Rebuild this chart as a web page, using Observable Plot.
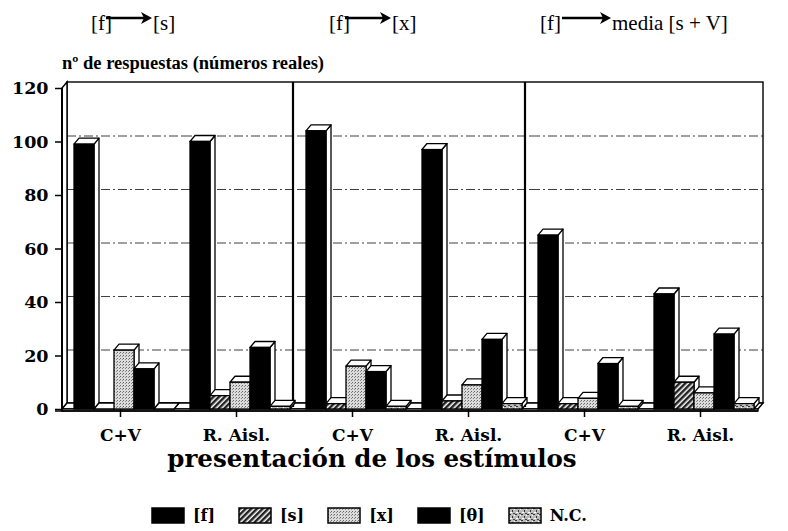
<!DOCTYPE html>
<html><head><meta charset="utf-8">
<script src="https://cdn.jsdelivr.net/npm/d3@7"></script>
<script src="https://cdn.jsdelivr.net/npm/@observablehq/plot@0.6"></script>
<style>
body{margin:0;background:#fff;}
#wrap{position:relative;width:788px;height:531px;overflow:hidden;background:#fff;}
.hdr{position:absolute;font-family:"Liberation Serif",serif;font-size:21px;line-height:21px;color:#000;white-space:nowrap;}
.arrow{position:absolute;}
#ylab{position:absolute;left:62px;top:54px;font-family:"Liberation Serif",serif;font-weight:bold;font-size:18.5px;line-height:18px;white-space:nowrap;}
#chart{position:absolute;left:0;top:40px;}
#chart svg{max-width:none;overflow:visible;}
#xtitle{position:absolute;left:0;width:744px;text-align:center;top:446px;font-family:"DejaVu Serif",serif;font-weight:bold;font-size:24.5px;line-height:26px;white-space:nowrap;}
#legend{position:absolute;left:152px;top:499px;}
#legend .lg-swatch{margin-right:24px !important;}
#legend .lg-swatch svg{margin-right:9px !important;}
#legend .lg-swatch svg rect{stroke:#000;stroke-width:1.5px;}
</style></head>
<body>
<svg width="0" height="0" style="position:absolute">
 <defs>
  <pattern id="pS" width="4" height="4" patternUnits="userSpaceOnUse" patternTransform="rotate(45)">
   <rect width="4" height="4" fill="#fff"/><rect width="2.5" height="4" fill="#222"/>
  </pattern>
  <pattern id="pX" width="3" height="3" patternUnits="userSpaceOnUse">
   <rect width="3" height="3" fill="#dcdcdc"/><rect x="0" y="0" width="1" height="1" fill="#666"/><rect x="2" y="1" width="1" height="1" fill="#888"/>
  </pattern>
  <pattern id="pNC" width="6" height="6" patternUnits="userSpaceOnUse">
   <rect width="6" height="6" fill="#bbb"/><rect x="0" y="0" width="2" height="1" fill="#333"/><rect x="3" y="2" width="1" height="2" fill="#333"/><rect x="1" y="4" width="2" height="1" fill="#fff"/><rect x="4" y="5" width="2" height="1" fill="#444"/><rect x="5" y="1" width="1" height="1" fill="#fff"/>
  </pattern>
 </defs>
</svg>
<div id="wrap">
 <div id="hdr"></div>
 <div id="ylab">nº de respuestas (números reales)</div>
 <div id="chart"></div>
 <div id="xtitle">presentación de los estímulos</div>
 <div id="legend"></div>
</div>
<script>
// ---- data ----
const groups = ["C+V", "R. Aisl.", "C+V", "R. Aisl.", "C+V", "R. Aisl."];
const series = ["[f]", "[s]", "[x]", "[θ]", "N.C."];
const valF  = [99, 100, 104, 97, 65, 43];
const valS  = [0, 5, 2, 3, 2, 10];
const valX  = [22, 10, 16, 9, 4, 6];
const valTh = [15, 23, 14, 26, 17, 28];
const valNC = [0, 1, 1, 2, 1, 2];
const yTicks = [0, 20, 40, 60, 80, 100, 120];
const gridTicks = [20, 40, 60, 80, 100];
const headerFrom = ["[f]", "[f]", "[f]"];
const headerTo = ["[s]", "[x]", "media [s + V]"];
const separatorsBefore = [2, 4];
const fills = ["#000", "url(#pS)", "url(#pX)", "#000", "url(#pNC)"];

const seriesValues = [valF, valS, valX, valTh, valNC];
const data = groups.flatMap((g, i) => series.map((s, j) => ({gi: i, serie: s, v: seriesValues[j][i]})));

// ---- header (layout) ----
const hdrPos = [{f: 91, a: 106, aw: 46, t: 153}, {f: 329, a: 345, aw: 46, t: 392}, {f: 540, a: 562, aw: 49, t: 612}];
const hdr = document.getElementById("hdr");
hdrPos.forEach((p, i) => {
  const f = document.createElement("div"); f.className = "hdr"; f.style.left = p.f + "px"; f.style.top = "13px"; f.textContent = headerFrom[i]; hdr.appendChild(f);
  const t = document.createElement("div"); t.className = "hdr"; t.style.left = p.t + "px"; t.style.top = "13px"; t.textContent = headerTo[i]; hdr.appendChild(t);
  const a = document.createElement("div"); a.className = "arrow"; a.style.left = p.a + "px"; a.style.top = "11px";
  a.innerHTML = `<svg width="${p.aw}" height="16"><line x1="0" y1="7" x2="${p.aw - 8}" y2="7" stroke="#000" stroke-width="2.5"/><polygon points="${p.aw - 11},1 ${p.aw},7 ${p.aw - 11},13 ${p.aw - 8},7" fill="#000"/></svg>`;
  hdr.appendChild(a);
});

const NS = "http://www.w3.org/2000/svg";
const DX = 5, DY = 6;
function el(tag, attrs) { const e = document.createElementNS(NS, tag); for (const k in attrs) e.setAttribute(k, attrs[k]); return e; }

function bar3d(index, scales, values, dimensions, context, next) {
  const g = next(index, scales, values, dimensions, context);
  for (const r of Array.from(g.querySelectorAll("rect"))) {
    const x = +r.getAttribute("x"), y = +r.getAttribute("y"), w = +r.getAttribute("width"), h = +r.getAttribute("height");
    const side = el("polygon", {points: `${x + w},${y} ${x + w + DX},${y - DY} ${x + w + DX},${y + h - DY} ${x + w},${y + h}`, fill: "#fff", stroke: "#000", "stroke-width": 1.3, "stroke-linejoin": "round"});
    const top = el("polygon", {points: `${x},${y} ${x + DX},${y - DY} ${x + w + DX},${y - DY} ${x + w},${y}`, fill: "#fff", stroke: "#000", "stroke-width": 1.3, "stroke-linejoin": "round"});
    r.parentNode.insertBefore(side, r);
    r.parentNode.insertBefore(top, r);
  }
  return g;
}

const W = 788, ML = 62, MR = 30;
const chart = Plot.plot({
  width: W, height: 409,
  marginLeft: ML, marginRight: MR, marginTop: 48, marginBottom: 40,
  style: {fontFamily: "DejaVu Serif", fontWeight: "bold", fontSize: "17px", color: "#000", background: "transparent", overflow: "visible"},
  fx: {domain: d3.range(groups.length), padding: 0, label: null},
  x: {domain: series, paddingInner: 0, paddingOuter: 0.33, align: 0.74, axis: null},
  y: {domain: [0, 120], label: null},
  color: {domain: series, range: fills},
  marks: [
    Plot.gridY(gridTicks, {dx: DX, dy: -DY, stroke: "#000", strokeOpacity: 0.75, strokeWidth: 1.1, strokeDasharray: "9,3,2,3"}),
    Plot.barY(data, {fx: "gi", x: "serie", y: "v", fill: "serie", stroke: "#000", strokeWidth: 1.3, render: bar3d}),
    Plot.axisY(yTicks, {tickSize: 7, tickPadding: 7, fontSize: 17.5, fontWeight: "bold", label: null, strokeWidth: 1.5}),
    Plot.axisFx({anchor: "bottom", tickSize: 8, tickPadding: 11, fontSize: 17, fontWeight: "bold", tickFormat: i => groups[i], label: null, strokeWidth: 1.5})
  ]
});

// 3D walls and floor behind the marks, positioned with Plot's own scales
const ys = chart.scale("y"), fxs = chart.scale("fx");
const y0 = ys.apply(0), yT = ys.apply(120);
const L = ML, R = W - MR;
const walls = el("g", {fill: "#fff", stroke: "#000", "stroke-width": 1.4});
walls.append(el("rect", {x: L + DX, y: yT - DY, width: R - L, height: y0 - yT}));
walls.append(el("polygon", {points: `${L},${yT} ${L + DX},${yT - DY} ${L + DX},${y0 - DY} ${L},${y0}`}));
walls.append(el("polygon", {points: `${L},${y0} ${L + DX},${y0 - DY} ${R + DX},${y0 - DY} ${R},${y0}`}));
walls.append(el("rect", {x: L, y: y0, width: R - L, height: 2}));
walls.append(el("line", {x1: L - 7, x2: R, y1: y0 + 2, y2: y0 + 2, "stroke-width": 1.6}));
walls.append(el("line", {x1: L, x2: L, y1: yT, y2: y0 + 2, "stroke-width": 2}));
for (const i of separatorsBefore) {
  const x = fxs.apply(i) - 1;
  walls.append(el("line", {x1: x, x2: x, y1: yT - DY, y2: y0 - 2, "stroke-width": 2.2}));
}
const firstG = chart.querySelector("g");
chart.insertBefore(walls, firstG);
document.getElementById("chart").appendChild(chart);

// legend
const legend = Plot.legend({color: {domain: series, range: fills}, legend: "swatches", swatchWidth: 32, swatchHeight: 15, className: "lg",
  style: {fontFamily: "DejaVu Serif", fontWeight: "bold", fontSize: "16px", color: "#000"}});
document.getElementById("legend").appendChild(legend);
</script>
</body></html>
